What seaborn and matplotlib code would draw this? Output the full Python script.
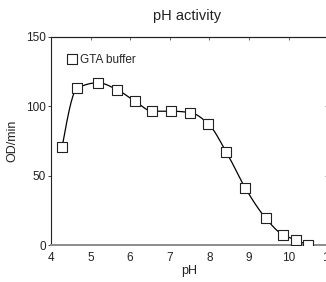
import matplotlib
matplotlib.use("Agg")
import matplotlib.pyplot as plt
import numpy as np
import pandas as pd
import seaborn as sns

# values
ph = [4.28, 4.66, 5.19, 5.67, 6.13, 6.56, 7.03, 7.52, 7.97, 8.43, 8.91, 9.42, 9.85, 10.2, 10.48]
od_per_min = [70.5, 113, 117, 112, 103.5, 96.5, 96.5, 95.5, 87.5, 67, 41, 19.5, 7.5, 3.5, 0]
x_ticks = [4, 5, 6, 7, 8, 9, 10, 11]
y_ticks = [0, 50, 100, 150]


def pchip(x, y, xs):
    """Shape-preserving cubic (Fritsch-Carlson) through (x, y), evaluated at xs."""
    x = np.asarray(x, float)
    y = np.asarray(y, float)
    h = np.diff(x)
    delta = np.diff(y) / h
    n = len(x)
    d = np.zeros(n)
    for k in range(1, n - 1):
        if delta[k - 1] * delta[k] > 0:
            w1 = 2 * h[k] + h[k - 1]
            w2 = h[k] + 2 * h[k - 1]
            d[k] = (w1 + w2) / (w1 / delta[k - 1] + w2 / delta[k])
    d[0] = ((2 * h[0] + h[1]) * delta[0] - h[0] * delta[1]) / (h[0] + h[1])
    if np.sign(d[0]) != np.sign(delta[0]):
        d[0] = 0
    elif np.sign(delta[0]) != np.sign(delta[1]) and abs(d[0]) > abs(3 * delta[0]):
        d[0] = 3 * delta[0]
    d[-1] = ((2 * h[-1] + h[-2]) * delta[-1] - h[-1] * delta[-2]) / (h[-1] + h[-2])
    if np.sign(d[-1]) != np.sign(delta[-1]):
        d[-1] = 0
    elif np.sign(delta[-1]) != np.sign(delta[-2]) and abs(d[-1]) > abs(3 * delta[-1]):
        d[-1] = 3 * delta[-1]
    idx = np.clip(np.searchsorted(x, xs) - 1, 0, n - 2)
    t = (xs - x[idx]) / h[idx]
    h00 = 2 * t ** 3 - 3 * t ** 2 + 1
    h10 = t ** 3 - 2 * t ** 2 + t
    h01 = -2 * t ** 3 + 3 * t ** 2
    h11 = t ** 3 - t ** 2
    return (h00 * y[idx] + h10 * h[idx] * d[idx]
            + h01 * y[idx + 1] + h11 * h[idx] * d[idx + 1])


sns.set_theme(style="ticks")
plt.rcParams["font.family"] = ["Liberation Sans", "DejaVu Sans"]

df = pd.DataFrame({"pH": ph, "OD/min": od_per_min})
xs = np.linspace(ph[0], ph[-1], 300)
fit = pd.DataFrame({"pH": xs, "OD/min": pchip(ph, od_per_min, xs)})

fig = plt.figure(figsize=(3.26, 2.82), dpi=100)
ax = fig.add_axes([0.1564, 0.1312, 0.85, 0.7376])

sns.lineplot(data=fit, x="pH", y="OD/min", ax=ax, color="black", linewidth=0.9, legend=False)
sns.scatterplot(data=df, x="pH", y="OD/min", ax=ax, marker="s", s=44, facecolor="white",
                edgecolor="#222222", linewidth=0.8, label="GTA buffer", zorder=3)

ax.set_xlim(4, 11)
ax.set_ylim(0, 150)
ax.set_xticks(x_ticks)
ax.set_yticks(y_ticks)
ax.tick_params(axis="x", length=0, labelsize=8.5, pad=5, colors="#222222")
ax.tick_params(axis="y", direction="out", length=2.5, width=0.6, labelsize=8.5, pad=1, colors="#222222")

for side in ["left", "top", "right"]:
    ax.spines[side].set_color("#222222")
    ax.spines[side].set_linewidth(0.8)
ax.spines["bottom"].set_color("#8c8c8c")
ax.spines["bottom"].set_linewidth(1.4)

top = ax.secondary_xaxis("top")
top.set_xticks(x_ticks)
top.tick_params(direction="in", length=2.5, width=0.6, labeltop=False, color="#555555")
top.spines["top"].set_color("#222222")
top.spines["top"].set_linewidth(0.8)
right = ax.secondary_yaxis("right")
right.set_yticks(y_ticks)
right.tick_params(direction="in", length=2.5, width=0.6, labelright=False, color="#555555")

ax.set_xlabel("pH", fontsize=9, labelpad=1, color="#222222")
ax.set_ylabel("OD/min", fontsize=9, labelpad=6, color="#222222")
ax.set_title("pH activity", fontsize=10.5, pad=12, color="#222222", x=0.49)

ax.legend(loc="upper left", frameon=False, fontsize=8.5, handletextpad=0.0,
          borderaxespad=0.3, handlelength=1.2, bbox_to_anchor=(0.022, 0.96))

fig.savefig("out.png", dpi=100)
plt.close(fig)
